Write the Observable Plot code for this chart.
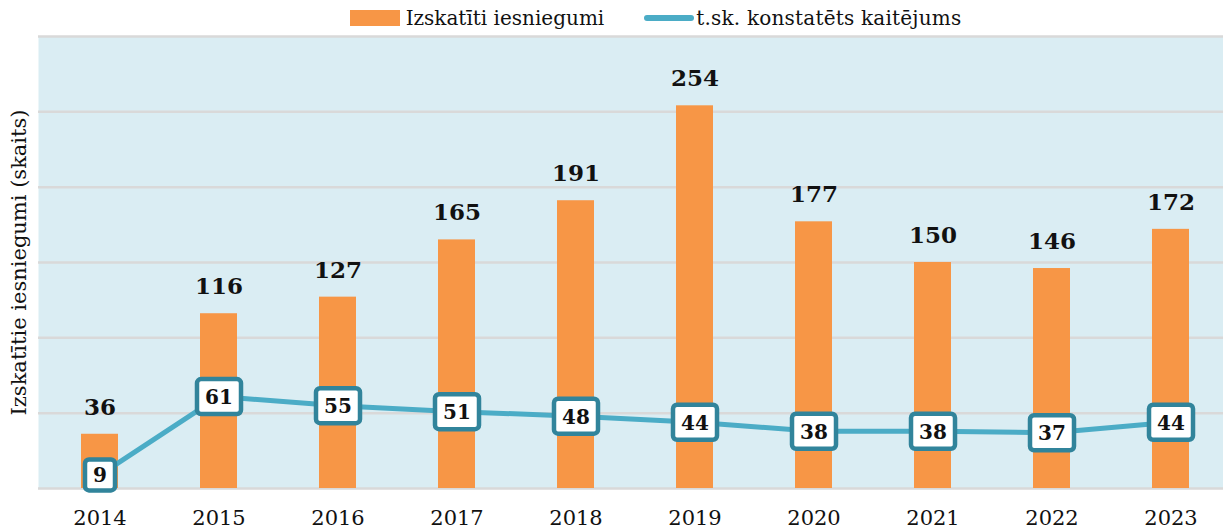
<!DOCTYPE html>
<html>
<head>
<meta charset="utf-8">
<script src="https://cdn.jsdelivr.net/npm/d3@7"></script>
<script src="https://cdn.jsdelivr.net/npm/@observablehq/plot@0.6"></script>
<style>
  html, body { margin: 0; padding: 0; background: #fff; overflow: hidden; width: 1223px; height: 529px; }
  #legend { height: 30px; display: flex; justify-content: center; align-items: center; padding-left: 128px;
    font-family: "DejaVu Serif", serif; font-size: 20px; color: #111; box-sizing: border-box; padding-top: 6px; }
  .item { display: flex; align-items: center; margin-right: 40px; }
  .sw-bar { width: 50px; height: 16px; background: #F79646; margin-right: 6px; }
  .sw-line { width: 50px; height: 6px; background: #4BACC6; border-radius: 3px; margin-right: 2px; }
  #chart { width: 1240px; }
  #chart svg { display: block; max-width: none !important; }
</style>
</head>
<body>
<div id="legend"></div>
<div id="chart"></div>
<script>
const years = ["2014","2015","2016","2017","2018","2019","2020","2021","2022","2023"];
const submissions = [36,116,127,165,191,254,177,150,146,172];
const harm = [9,61,55,51,48,44,38,38,37,44];
const yTicks = [0,50,100,150,200,250,300];
const seriesNames = ["Izskatīti iesniegumi","t.sk. konstatēts kaitējums"];
const yLabel = "Izskatītie iesniegumi (skaits)";

const data = years.map((y,i) => ({year: y, sub: submissions[i], harm: harm[i]}));

// legend
const lg = document.getElementById("legend");
lg.innerHTML = `<div class="item"><div class="sw-bar"></div><span>${seriesNames[0]}</span></div>
<div class="item"><div class="sw-line"></div><span style="letter-spacing:0.2px">${seriesNames[1]}</span></div>`;

function boxSymbol(w, h, r) {
  return {draw(ctx) {
    const x0=-w/2, x1=w/2, y0=-h/2, y1=h/2;
    ctx.moveTo(x0+r,y0); ctx.lineTo(x1-r,y0); ctx.arcTo(x1,y0,x1,y0+r,r);
    ctx.lineTo(x1,y1-r); ctx.arcTo(x1,y1,x1-r,y1,r);
    ctx.lineTo(x0+r,y1); ctx.arcTo(x0,y1,x0,y1-r,r);
    ctx.lineTo(x0,y0+r); ctx.arcTo(x0,y0,x0+r,y0,r); ctx.closePath();
  }};
}
const wide = boxSymbol(44, 35, 4);
const narrow = boxSymbol(30, 31, 4);

const chart = Plot.plot({
  width: 1232,
  height: 499,
  marginLeft: 38,
  marginRight: 0,
  marginTop: 6,
  marginBottom: 41,
  style: {fontFamily: "'DejaVu Serif', serif", background: "transparent", color: "#111", maxWidth: "none"},
  x: {domain: years, padding: 0, axis: null},
  y: {domain: [0, 300], axis: null},
  marks: [
    Plot.frame({fill: "#DAEDF3", stroke: null}),
    Plot.ruleY(yTicks, {stroke: "#D9D9D9", strokeWidth: 2.5}),
    Plot.barY(data, {x: "year", y: "sub", fill: "#F79646", insetLeft: 41, insetRight: 41}),
    Plot.text(data, {x: "year", y: "sub", text: d => String(d.sub), dy: -27, fontSize: 23, fontWeight: "bold", fill: "#111"}),
    Plot.line(data, {x: "year", y: "harm", stroke: "#4BACC6", strokeWidth: 5}),
    Plot.dot(data.filter(d => d.harm >= 10), {x: "year", y: "harm", symbol: wide, fill: "white", stroke: "#31849B", strokeWidth: 4.5}),
    Plot.dot(data.filter(d => d.harm < 10), {x: "year", y: "harm", symbol: narrow, fill: "white", stroke: "#31849B", strokeWidth: 4.5}),
    Plot.text(data, {x: "year", y: "harm", text: d => String(d.harm), fontSize: 20, fontWeight: "bold", fill: "#111", dy: 1}),
    Plot.axisX({tickSize: 0, tickPadding: 22, fontSize: 21, label: null}),
    Plot.text([yLabel], {frameAnchor: "left", textAnchor: "middle", rotate: -90, dx: -19, fontSize: 21, fill: "#111"})
  ]
});
document.getElementById("chart").appendChild(chart);
</script>
</body>
</html>
